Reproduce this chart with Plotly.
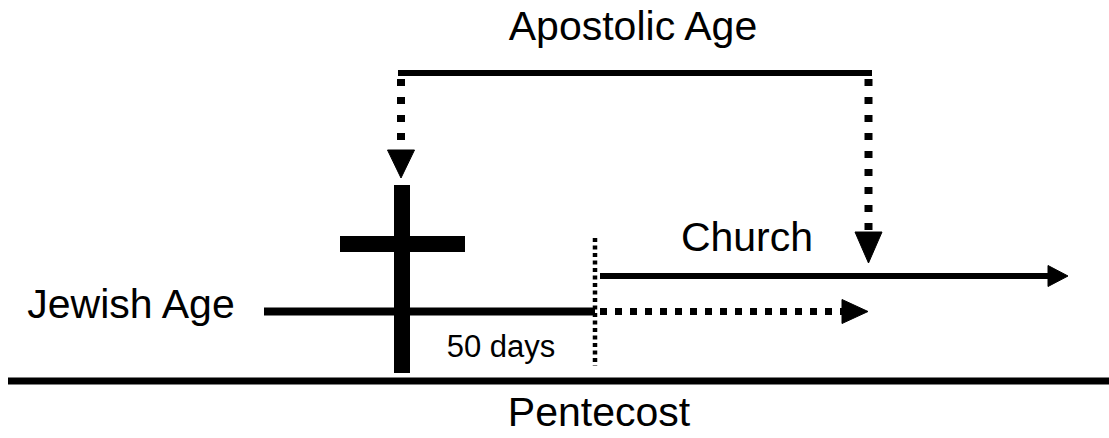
import plotly.graph_objects as go

# ---- diagram data (pixel-space units of the original figure) ----
labels = ["Apostolic Age", "Jewish Age", "Church", "50 days", "Pentecost"]
label_x = [633, 131, 747, 501, 599]
label_y = [30, 308, 241, 349, 416]
label_size = [41, 41, 41, 31, 41]

# timeline lines
jewish_x = [264, 595]
jewish_y = [311.5, 311.5]
continued_x = [600, 842]          # dashed continuation of Jewish age
continued_y = [311.5, 311.5]
continued_tip = [868, 311.5]
church_x = [600, 1050]
church_y = [276, 276]
church_tip = [1068, 276]
pentecost_mark_x = [595, 595]
pentecost_mark_y = [238, 366]
baseline_x = [8, 1109]
baseline_y = [381, 381]

# cross
cross_post_x = [402, 402]
cross_post_y = [185, 373]
cross_bar_x = [340, 465]
cross_bar_y = [244, 244]

# apostolic age bracket
bracket_top_x = [398, 872]
bracket_top_y = [73, 73]
left_leg_x = [401, 401]
left_leg_y = [79, 152]
left_tip = [401, 178]
right_leg_x = [868.5, 868.5]
right_leg_y = [79, 234]
right_tip = [868.5, 263]

INK = "#000000"
FONT = "Liberation Sans, Arial, Helvetica, sans-serif"

fig = go.Figure()


def line(xs, ys, width, dash="solid"):
    fig.add_trace(go.Scatter(x=xs, y=ys, mode="lines",
                             line=dict(color=INK, width=width, dash=dash),
                             hoverinfo="skip", showlegend=False))


def head(tip, direction, length, half):
    tx, ty = tip
    if direction == "down":
        xs = [tx - half, tx + half, tx, tx - half]
        ys = [ty - length, ty - length, ty, ty - length]
    else:  # right
        xs = [tx - length, tx - length, tx, tx - length]
        ys = [ty - half, ty + half, ty, ty - half]
    fig.add_trace(go.Scatter(x=xs, y=ys, mode="lines", fill="toself",
                             fillcolor=INK, line=dict(color=INK, width=1),
                             hoverinfo="skip", showlegend=False))


# baseline
line(baseline_x, baseline_y, 7)
# Jewish age
line(jewish_x, jewish_y, 8)
line(continued_x, continued_y, 7, "7px,8px")
head(continued_tip, "right", 26, 12)
# Church
line(church_x, church_y, 6)
head(church_tip, "right", 20, 10.5)
# Pentecost dotted mark
line(pentecost_mark_x, pentecost_mark_y, 4.5, "4px,3.5px")
# cross
line(cross_post_x, cross_post_y, 16)
line(cross_bar_x, cross_bar_y, 16)
# bracket
line(bracket_top_x, bracket_top_y, 6)
line(left_leg_x, left_leg_y, 8, "7px,11px")
head(left_tip, "down", 28, 13.5)
line(right_leg_x, right_leg_y, 8, "7px,11px")
head(right_tip, "down", 31, 13.5)

# labels
for t, x, y, s in zip(labels, label_x, label_y, label_size):
    fig.add_trace(go.Scatter(x=[x], y=[y], mode="text", text=[t],
                             textposition="middle center", cliponaxis=False,
                             textfont=dict(family=FONT, size=s, color=INK),
                             hoverinfo="skip", showlegend=False))

fig.update_layout(
    width=1109, height=438,
    margin=dict(l=0, r=0, t=0, b=0),
    paper_bgcolor="white", plot_bgcolor="white",
    xaxis=dict(range=[0, 1109], visible=False, fixedrange=True),
    yaxis=dict(range=[438, 0], visible=False, fixedrange=True),
    showlegend=False,
)

fig.write_html(
    "out.html",
    config={"displayModeBar": False},
    post_script="document.body.style.margin='0';document.body.style.overflow='hidden';",
)
